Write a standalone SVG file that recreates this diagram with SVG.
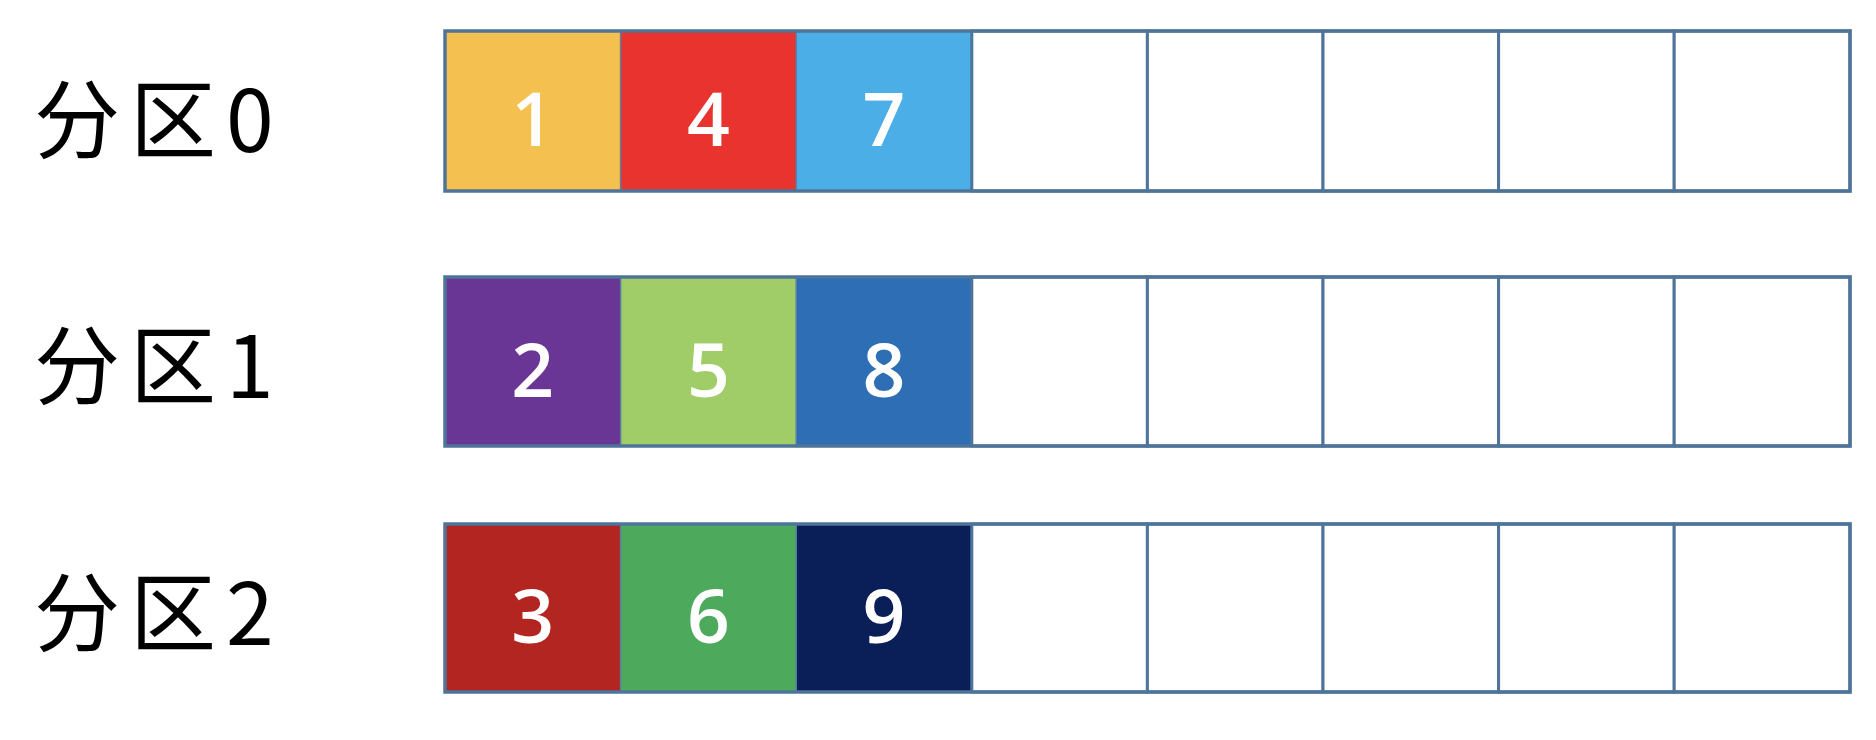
<svg xmlns="http://www.w3.org/2000/svg" width="1876" height="740" viewBox="0 0 1876 740">
<style>
.lbl{font-family:"Noto Sans CJK SC","Noto Sans",sans-serif;font-size:86px;letter-spacing:10px;fill:#000;}
.num{font-family:"Open Sans","Lato","Liberation Sans",sans-serif;font-size:75px;font-weight:600;fill:#fff;text-anchor:middle;}
.cell{stroke:#4F7499;stroke-width:3;}
.thin{stroke:#5A7FA3;stroke-width:1.5;}
.empty{fill:#fff;}
.frame{fill:none;stroke:#4F7499;stroke-width:3.5;}
</style>
<rect width="1876" height="740" fill="#fff"/>
<g id="partition0">
  <text class="lbl" x="34" y="152">分区0</text>
  <g id="p0c0"><rect x="445" y="31" width="175.6" height="160" fill="#F4C050"/><text class="num" x="532.8" y="146">1</text></g>
  <g id="p0c1"><rect x="620.6" y="31" width="175.6" height="160" fill="#E9332F"/><text class="num" x="708.4" y="146">4</text></g>
  <g id="p0c2"><rect x="796.2" y="31" width="175.6" height="160" fill="#4BAEE6"/><text class="num" x="884" y="146">7</text></g>
  <g id="p0c3"><rect class="empty cell" x="971.8" y="31" width="175.6" height="160"/></g>
  <g id="p0c4"><rect class="empty cell" x="1147.4" y="31" width="175.6" height="160"/></g>
  <g id="p0c5"><rect class="empty cell" x="1323" y="31" width="175.6" height="160"/></g>
  <g id="p0c6"><rect class="empty cell" x="1498.6" y="31" width="175.6" height="160"/></g>
  <g id="p0c7"><rect class="empty cell" x="1674.2" y="31" width="175.8" height="160"/></g>
  <line class="thin" x1="620.6" y1="31" x2="620.6" y2="191"/>
  <line class="thin" x1="796.2" y1="31" x2="796.2" y2="191"/>
  <rect class="frame" x="445" y="31" width="1405" height="160"/>
</g>
<g id="partition1">
  <text class="lbl" x="34" y="398">分区1</text>
  <g id="p1c0"><rect x="445" y="277" width="175.6" height="169" fill="#6A3695"/><text class="num" x="532.8" y="397">2</text></g>
  <g id="p1c1"><rect x="620.6" y="277" width="175.6" height="169" fill="#A0CD68"/><text class="num" x="708.4" y="397">5</text></g>
  <g id="p1c2"><rect x="796.2" y="277" width="175.6" height="169" fill="#2E6EB5"/><text class="num" x="884" y="397">8</text></g>
  <g id="p1c3"><rect class="empty cell" x="971.8" y="277" width="175.6" height="169"/></g>
  <g id="p1c4"><rect class="empty cell" x="1147.4" y="277" width="175.6" height="169"/></g>
  <g id="p1c5"><rect class="empty cell" x="1323" y="277" width="175.6" height="169"/></g>
  <g id="p1c6"><rect class="empty cell" x="1498.6" y="277" width="175.6" height="169"/></g>
  <g id="p1c7"><rect class="empty cell" x="1674.2" y="277" width="175.8" height="169"/></g>
  <line class="thin" x1="620.6" y1="277" x2="620.6" y2="446"/>
  <line class="thin" x1="796.2" y1="277" x2="796.2" y2="446"/>
  <rect class="frame" x="445" y="277" width="1405" height="169"/>
</g>
<g id="partition2">
  <text class="lbl" x="34" y="645">分区2</text>
  <g id="p2c0"><rect x="445" y="524" width="175.6" height="168" fill="#B32521"/><text class="num" x="532.8" y="643">3</text></g>
  <g id="p2c1"><rect x="620.6" y="524" width="175.6" height="168" fill="#4DAA5D"/><text class="num" x="708.4" y="643">6</text></g>
  <g id="p2c2"><rect x="796.2" y="524" width="175.6" height="168" fill="#0A1F58"/><text class="num" x="884" y="643">9</text></g>
  <g id="p2c3"><rect class="empty cell" x="971.8" y="524" width="175.6" height="168"/></g>
  <g id="p2c4"><rect class="empty cell" x="1147.4" y="524" width="175.6" height="168"/></g>
  <g id="p2c5"><rect class="empty cell" x="1323" y="524" width="175.6" height="168"/></g>
  <g id="p2c6"><rect class="empty cell" x="1498.6" y="524" width="175.6" height="168"/></g>
  <g id="p2c7"><rect class="empty cell" x="1674.2" y="524" width="175.8" height="168"/></g>
  <line class="thin" x1="620.6" y1="524" x2="620.6" y2="692"/>
  <line class="thin" x1="796.2" y1="524" x2="796.2" y2="692"/>
  <rect class="frame" x="445" y="524" width="1405" height="168"/>
</g>
</svg>
